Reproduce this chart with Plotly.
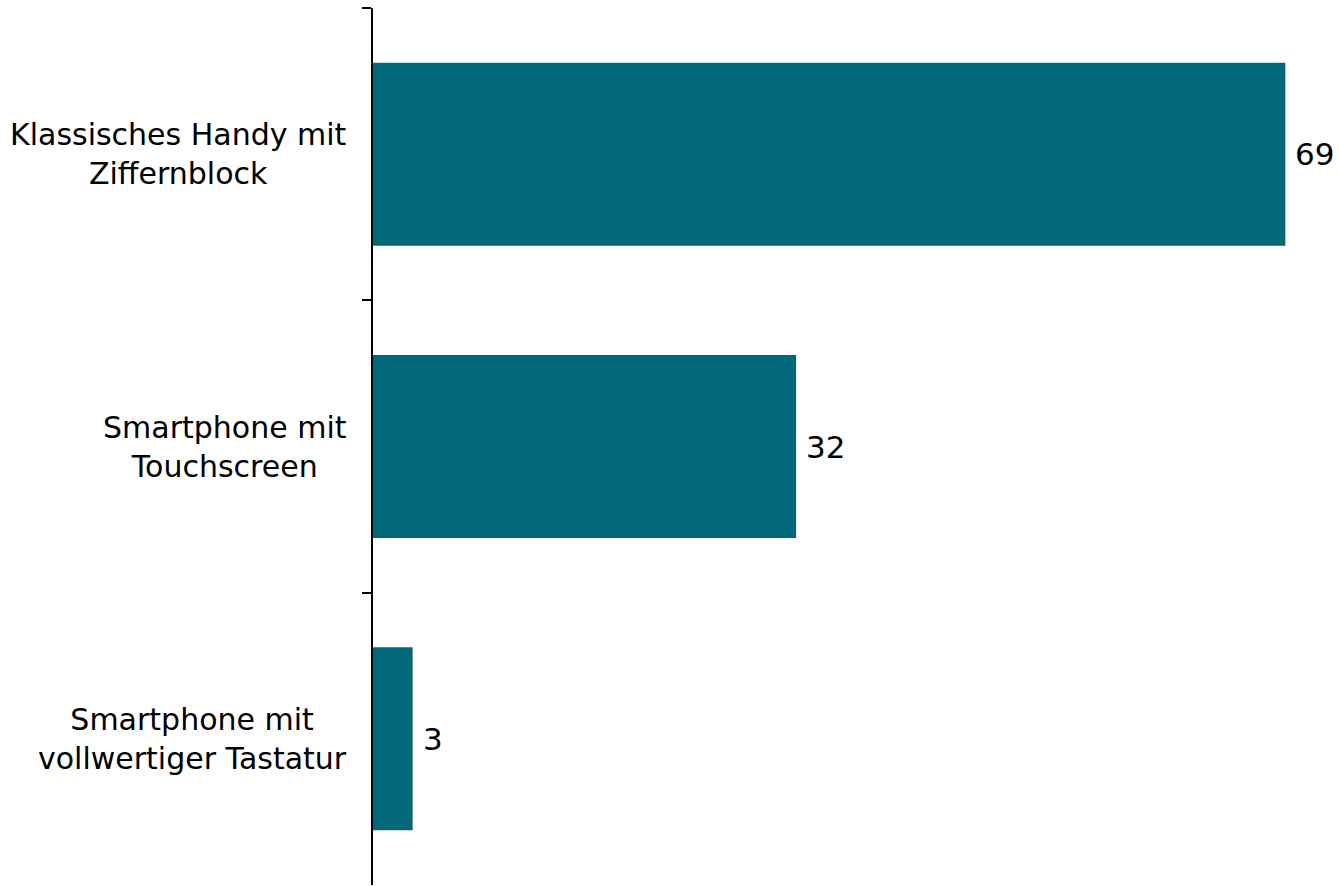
import plotly.graph_objects as go

categories = ["Klassisches Handy mit<br>Ziffernblock",
              "Smartphone mit<br>Touchscreen",
              "Smartphone mit<br>vollwertiger Tastatur"]
values = [69, 32, 3]

bar_color = "#006878"
font_family = "DejaVu Sans, Verdana, sans-serif"

fig = go.Figure(go.Bar(
    x=values, y=categories, orientation="h",
    marker=dict(color=bar_color, line=dict(width=0)),
    hoverinfo="skip",
))

annotations = []
for c, v in zip(categories, values):
    annotations.append(dict(x=v, y=c, xref="x", yref="y", text=str(v),
                            showarrow=False, xanchor="left", yanchor="middle",
                            xshift=8, font=dict(size=31, color="black", family=font_family)))
    annotations.append(dict(x=0, y=c, xref="paper", yref="y", text=c,
                            showarrow=False, xanchor="right", yanchor="middle",
                            align="center", xshift=-24,
                            font=dict(size=30, color="black", family=font_family)))

fig.update_layout(
    width=1339, height=886,
    margin=dict(l=373, r=14, t=8, b=1),
    paper_bgcolor="white", plot_bgcolor="white",
    bargap=0.374,
    showlegend=False,
    font=dict(family=font_family, color="black"),
    annotations=annotations,
    xaxis=dict(range=[0, 72], visible=False, fixedrange=True),
    yaxis=dict(autorange="reversed", showticklabels=False, ticks="outside",
               tickson="boundaries", ticklen=9, tickwidth=2, tickcolor="black",
               showline=True, linecolor="black", linewidth=2,
               showgrid=False, zeroline=False, fixedrange=True),
)

fig.write_html("out.html",
               config={"displayModeBar": False, "staticPlot": True},
               post_script="document.body.style.margin='0';document.body.style.overflow='hidden';")
